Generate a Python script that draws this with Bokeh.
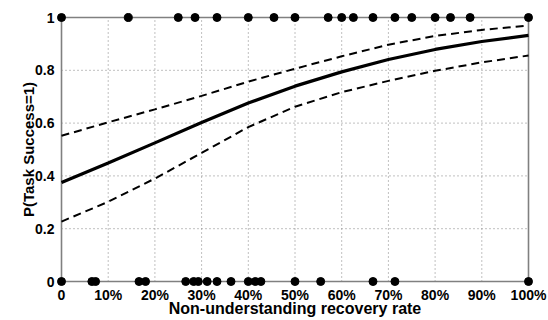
from bokeh.plotting import figure
from bokeh.models import Range1d, FixedTicker
from bokeh.embed import file_html
from bokeh.resources import INLINE

# ---- data ----
curve_x = [0.0, 0.1, 0.2, 0.3, 0.4, 0.5, 0.6, 0.7, 0.8, 0.9, 1.0]
fit = [0.375, 0.449, 0.525, 0.602, 0.676, 0.740, 0.794, 0.841, 0.879, 0.909, 0.932]
upper = [0.552, 0.603, 0.652, 0.703, 0.757, 0.806, 0.853, 0.897, 0.930, 0.953, 0.970]
lower = [0.227, 0.302, 0.390, 0.487, 0.585, 0.662, 0.717, 0.760, 0.798, 0.830, 0.856]

success_x = [0.0, 0.143, 0.25, 0.286, 0.333, 0.40, 0.455, 0.50, 0.571, 0.60,
             0.625, 0.667, 0.714, 0.75, 0.80, 0.833, 0.875, 1.0]
failure_x = [0.0, 0.065, 0.073, 0.166, 0.18, 0.266, 0.283, 0.293, 0.312, 0.333,
             0.363, 0.40, 0.415, 0.427, 0.50, 0.555, 0.667, 0.714, 1.0]

x_ticks = [0.0, 0.1, 0.2, 0.3, 0.4, 0.5, 0.6, 0.7, 0.8, 0.9, 1.0]
x_labels = ["0", "10%", "20%", "30%", "40%", "50%", "60%", "70%", "80%", "90%", "100%"]
y_ticks = [0.0, 0.2, 0.4, 0.6, 0.8, 1.0]
y_labels = ["0", "0.2", "0.4", "0.6", "0.8", "1"]

FONT = "Liberation Sans"
GRAY = "#808080"

# padding so that markers on the box edges are not clipped
px_pad = 5.0
frame_w, frame_h = 477, 274
xpad = px_pad / (frame_w - 2 * px_pad)
ypad = px_pad / (frame_h - 2 * px_pad)

p = figure(width=548, height=320, output_backend="svg", toolbar_location=None,
           x_range=Range1d(x_ticks[0] - xpad, x_ticks[-1] + xpad),
           y_range=Range1d(y_ticks[0] - ypad, y_ticks[-1] + ypad),
           min_border_left=56, min_border_right=15, min_border_top=12, min_border_bottom=34)
p.outline_line_color = None
p.background_fill_color = "white"
p.border_fill_color = "white"
p.xgrid.visible = False
p.ygrid.visible = False

# dotted grid lines inside the box
gx = x_ticks[1:-1]
p.segment(x0=gx, x1=gx, y0=[y_ticks[0]] * len(gx), y1=[y_ticks[-1]] * len(gx),
          line_color=GRAY, line_width=1, line_dash="1 3")
gy = y_ticks[1:-1]
p.segment(x0=[x_ticks[0]] * len(gy), x1=[x_ticks[-1]] * len(gy), y0=gy, y1=gy,
          line_color=GRAY, line_width=1, line_dash="1 3")

# box
bx0, bx1, by0, by1 = x_ticks[0], x_ticks[-1], y_ticks[0], y_ticks[-1]
p.segment(x0=[bx0, bx0, bx0, bx1], x1=[bx1, bx1, bx0, bx1],
          y0=[by0, by1, by0, by0], y1=[by0, by1, by1, by1],
          line_color=GRAY, line_width=1.6)

# curves
p.line(curve_x, upper, line_color="black", line_width=2, line_dash="8 5")
p.line(curve_x, lower, line_color="black", line_width=2, line_dash="8 5")
p.line(curve_x, fit, line_color="black", line_width=3.2)

# observations
p.scatter(success_x, [1] * len(success_x), size=8, color="black")
p.scatter(failure_x, [0] * len(failure_x), size=8, color="black")

for ax in (p.xaxis[0], p.yaxis[0]):
    ax.axis_line_color = None
    ax.major_tick_line_color = None
    ax.minor_tick_line_color = None
    ax.major_tick_out = 0
    ax.major_tick_in = 0
    ax.major_label_text_font = FONT
    ax.major_label_text_font_style = "bold"
    ax.major_label_text_font_size = "14px"
    ax.major_label_text_color = "black"
    ax.axis_label_text_font = FONT
    ax.axis_label_text_font_style = "bold"
    ax.axis_label_text_color = "black"

p.xaxis.ticker = FixedTicker(ticks=x_ticks)
p.xaxis.major_label_overrides = dict(zip(x_ticks, x_labels))
p.xaxis.axis_label = "Non-understanding recovery rate"
p.xaxis.axis_label_text_font_size = "16px"
p.xaxis.major_label_standoff = 0
p.xaxis.axis_label_standoff = -6

p.yaxis.ticker = FixedTicker(ticks=y_ticks)
p.yaxis.major_label_overrides = dict(zip(y_ticks, y_labels))
p.yaxis.axis_label = "P(Task Success=1)"
p.yaxis.axis_label_text_font_size = "15px"
p.yaxis.major_label_standoff = 2
p.yaxis.axis_label_standoff = -5

open("out.html", "w").write(file_html(p, INLINE))
